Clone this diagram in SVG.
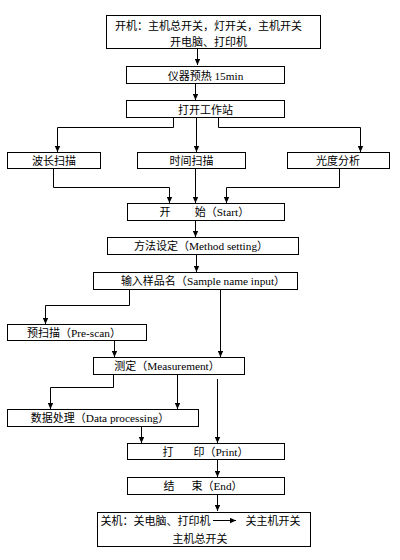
<svg xmlns="http://www.w3.org/2000/svg" width="400" height="560" viewBox="0 0 400 560">
<style>
.box{fill:#fff;stroke:#000;stroke-width:1}
.t{font-family:"Liberation Serif","Noto Sans CJK SC",serif;font-size:11px;fill:#000;text-anchor:middle}
.l{font-size:11.3px}
.c{fill:none;stroke:#000;stroke-width:1}
</style>
<defs>
<marker id="ah" viewBox="0 0 10 10" refX="10" refY="5" markerWidth="7" markerHeight="6" markerUnits="userSpaceOnUse" orient="auto">
<path d="M0,0.5 L10,5 L0,9.5 z" fill="#000"/>
</marker>
</defs>
<rect width="400" height="560" fill="#fff"/>
<g id="connectors">
<path class="c" marker-end="url(#ah)" d="M197.5,48 V65"/>
<path class="c" marker-end="url(#ah)" d="M195.5,83 V100"/>
<path class="c" marker-end="url(#ah)" d="M173.5,117 V127.5 H57.5 V152"/>
<path class="c" marker-end="url(#ah)" d="M196.5,117 V152"/>
<path class="c" marker-end="url(#ah)" d="M218.5,117 V127.5 H360.5 V152"/>
<path class="c" marker-end="url(#ah)" d="M53.5,168 V187.5 H169.5 V203"/>
<path class="c" marker-end="url(#ah)" d="M195.5,168 V203"/>
<path class="c" marker-end="url(#ah)" d="M339.5,168 V187.5 H226.5 V203"/>
<path class="c" marker-end="url(#ah)" d="M195.5,220 V237"/>
<path class="c" marker-end="url(#ah)" d="M196.5,254 V272"/>
<path class="c" marker-end="url(#ah)" d="M129.5,289 V305.5 H45.5 V324"/>
<path class="c" marker-end="url(#ah)" d="M220.5,289 V357"/>
<path class="c" marker-end="url(#ah)" d="M114.5,340 V357"/>
<path class="c" marker-end="url(#ah)" d="M113.5,374 V387.5 H50.5 V409"/>
<path class="c" marker-end="url(#ah)" d="M177.5,374 V409"/>
<path class="c" marker-end="url(#ah)" d="M217.5,379 V443"/>
<path class="c" marker-end="url(#ah)" d="M141.5,427 V443"/>
<path class="c" marker-end="url(#ah)" d="M217.5,459 V477"/>
<path class="c" marker-end="url(#ah)" d="M217.5,494 V511"/>
</g>
<g id="n1"><rect class="box" x="106.5" y="15.5" width="214" height="33"/>
<text class="t" x="208.5" y="29.5">开机：主机总开关，灯开关，主机开关</text>
<text class="t" x="208.5" y="45.5">开电脑、打印机</text></g>
<g id="n2"><rect class="box" x="126.5" y="66.5" width="158" height="17"/>
<text class="t" x="205.5" y="79.5">仪器预热 <tspan class="l">15min</tspan></text></g>
<g id="n3"><rect class="box" x="126.5" y="100.5" width="158" height="17"/>
<text class="t" x="205.5" y="113.5">打开工作站</text></g>
<g id="n4"><rect class="box" x="7.5" y="152.5" width="93" height="16"/>
<text class="t" x="54" y="165">波长扫描</text></g>
<g id="n5"><rect class="box" x="137.5" y="152.5" width="108" height="16"/>
<text class="t" x="191.5" y="165">时间扫描</text></g>
<g id="n6"><rect class="box" x="287.5" y="152.5" width="102" height="16"/>
<text class="t" x="338" y="165">光度分析</text></g>
<g id="n7"><rect class="box" x="127.5" y="203.5" width="157" height="17"/>
<text class="t" x="165" y="216">开</text>
<text class="t" x="222" y="216">始（<tspan class="l">Start</tspan>）</text></g>
<g id="n8"><rect class="box" x="107.5" y="237.5" width="191" height="17"/>
<text class="t" x="201" y="250">方法设定（<tspan class="l">Method setting</tspan>）</text></g>
<g id="n9"><rect class="box" x="93.5" y="272.5" width="204" height="17"/>
<text class="t" x="203" y="285">输入样品名（<tspan class="l">Sample name input</tspan>）</text></g>
<g id="n10"><rect class="box" x="7.5" y="324.5" width="139" height="16"/>
<text class="t" x="74" y="336.5">预扫描（<tspan class="l">Pre-scan</tspan>）</text></g>
<g id="n11"><rect class="box" x="93.5" y="357.5" width="151" height="17"/>
<text class="t" x="167" y="370">测定（<tspan class="l">Measurement</tspan>）</text></g>
<g id="n12"><rect class="box" x="7.5" y="409.5" width="191" height="17"/>
<text class="t" x="100" y="422">数据处理（<tspan class="l">Data processing</tspan>）</text></g>
<g id="n13"><rect class="box" x="127.5" y="443.5" width="157" height="16"/>
<text class="t" x="168" y="455.5">打</text>
<text class="t" x="221" y="455.5">印（<tspan class="l">Print</tspan>）</text></g>
<g id="n14"><rect class="box" x="127.5" y="477.5" width="157" height="17"/>
<text class="t" x="169" y="490">结</text>
<text class="t" x="217" y="490">束（<tspan class="l">End</tspan>）</text></g>
<g id="n15"><rect class="box" x="97.5" y="512.5" width="213" height="34"/>
<text class="t" x="155.5" y="525">关机：关电脑、打印机</text>
<path class="c" marker-end="url(#ah)" d="M213,520.5 H236"/>
<text class="t" x="273" y="525">关主机开关</text>
<text class="t" x="200" y="543">主机总开关</text></g>
</svg>
